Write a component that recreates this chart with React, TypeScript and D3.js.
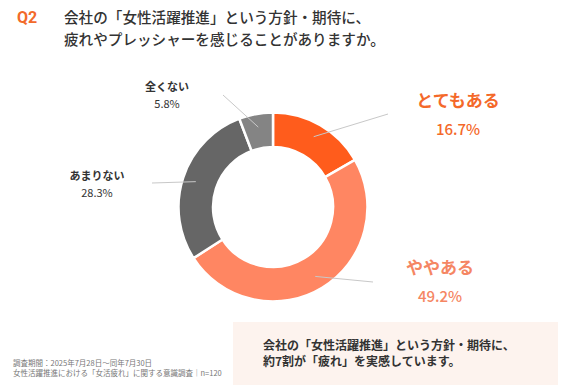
import React from 'react';
import * as d3 from 'd3';

const categories = ['とてもある', 'ややある', 'あまりない', '全くない'];
const values = [16.7, 49.2, 28.3, 5.8];
const colors = ['#FF5C1C', '#FF8662', '#666666', '#848484'];
const labelColors = ['#F4692A', '#F58663', '#333333', '#333333'];

const W = 562;
const H = 389;
const cx = 273;
const cy = 207;
const outerR = 94.5;
const innerR = 60;

// label positions for each slice [text x, text y, line end x, line end y]
const labelPos = [
  { x: 458, y: 101, big: true, lx: 388, ly: 114 },
  { x: 440, y: 268, big: true, lx: 373, ly: 282 },
  { x: 97, y: 176, big: false, lx: 152, ly: 183 },
  { x: 167, y: 87, big: false, lx: 223, ly: 95 },
];

const font = '"Noto Sans CJK JP", "Noto Sans", sans-serif';

const App = () => {
  const pie = d3.pie<number>().sort(null).value((d) => d);
  const arcs = pie(values);
  const arc = d3.arc<d3.PieArcDatum<number>>().innerRadius(innerR).outerRadius(outerR);
  const midArc = d3
    .arc<d3.PieArcDatum<number>>()
    .innerRadius((innerR + outerR) / 2 + 4)
    .outerRadius((innerR + outerR) / 2 + 4);

  return (
    <svg
      width={W}
      height={H}
      style={{ position: 'absolute', left: 0, top: 0, background: '#fff' }}
    >
      {/* title */}
      <text x={17} y={23} fill="#F26A2A" fontSize={16} fontWeight={700} fontFamily="Roboto, sans-serif">
        Q2
      </text>
      <text x={64} y={23} fill="#333" fontSize={14.6} fontWeight={500} fontFamily={font}>
        会社の「女性活躍推進」という方針・期待に、
      </text>
      <text x={64} y={45} fill="#333" fontSize={14.6} fontWeight={500} fontFamily={font}>
        疲れやプレッシャーを感じることがありますか。
      </text>

      {/* donut */}
      <g transform={`translate(${cx},${cy})`}>
        {arcs.map((a, i) => (
          <path key={i} d={arc(a) || ''} fill={colors[i]} stroke="#fff" strokeWidth={2.5} />
        ))}
      </g>

      {/* leader lines */}
      {arcs.map((a, i) => {
        const [mx, my] = midArc.centroid(a);
        const p = labelPos[i];
        return (
          <line
            key={i}
            x1={cx + mx}
            y1={cy + my}
            x2={p.lx}
            y2={p.ly}
            stroke="#c8c8c8"
            strokeWidth={1}
          />
        );
      })}

      {/* labels */}
      {categories.map((c, i) => {
        const p = labelPos[i];
        return (
          <g key={c} fontFamily={font} textAnchor="middle" fill={labelColors[i]}>
            <text x={p.x} y={p.y} dy="0.35em" fontSize={p.big ? 17 : 11} fontWeight={700}>
              {c}
            </text>
            <text
              x={p.x}
              y={p.y + (p.big ? 29 : 17)}
              dy="0.35em"
              fontSize={p.big ? 15 : 11}
              fontWeight={p.big ? 500 : 400}
            >
              {d3.format('.1f')(values[i])}%
            </text>
          </g>
        );
      })}

      {/* note box */}
      <rect x={233} y={322} width={325} height={63} fill="#FDF3EE" />
      <text x={263} y={346} dy="0.35em" fill="#333" fontSize={12} fontWeight={700} fontFamily={font}>
        会社の「女性活躍推進」という方針・期待に、
      </text>
      <text x={263} y={362} dy="0.35em" fill="#333" fontSize={12} fontWeight={700} fontFamily={font}>
        約7割が「疲れ」を実感しています。
      </text>

      {/* footnote */}
      <text x={13} y={366} fill="#777" fontSize={7.5} fontFamily={font}>
        調査期間：2025年7月28日～同年7月30日
      </text>
      <text x={13} y={376} fill="#777" fontSize={7.5} fontFamily={font}>
        女性活躍推進における「女活疲れ」に関する意識調査｜n=120
      </text>
    </svg>
  );
};

export default App;
